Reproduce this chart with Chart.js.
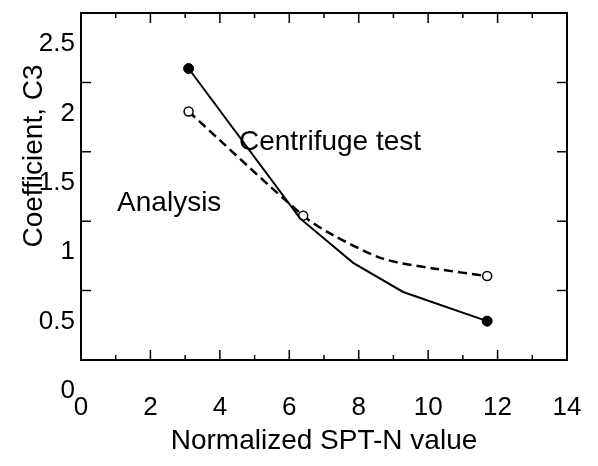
<!DOCTYPE html>
<html>
<head>
<meta charset="utf-8">
<script src="https://cdn.jsdelivr.net/npm/chart.js@4.4.1/dist/chart.umd.min.js"></script>
<style>
  html, body { margin: 0; padding: 0; background: #fff; }
</style>
</head>
<body>
<canvas id="myChart" width="598" height="466"></canvas>
<script>
// Centrifuge test: solid line, filled markers at both ends
let testN = [3.1, 6.31, 7.84, 9.28, 11.7];
let testC3 = [2.1, 1.02, 0.7, 0.49, 0.28];

// Analysis: dashed line, open markers
let analysisN = [3.1, 6.4, 7.26, 8.7, 10.14, 11.7];
let analysisC3 = [1.79, 1.04, 0.9, 0.73, 0.66, 0.605];

let xTicks = [0, 2, 4, 6, 8, 10, 12, 14];
let xMinorTicks = [1, 3, 5, 7, 9, 11, 13];
let yTicks = [0, 0.5, 1, 1.5, 2, 2.5];

const FONT = "'Liberation Sans', Arial, sans-serif";
Chart.defaults.font.family = FONT;
Chart.defaults.color = "#000";

// frame, inward tick marks and the text placed inside the plot
const framePlugin = {
  id: "frame",
  afterDraw(chart) {
    const { ctx, chartArea: a, scales } = chart;
    ctx.save();
    ctx.strokeStyle = "#000";
    ctx.lineWidth = 2;
    ctx.strokeRect(a.left, a.top, a.right - a.left, a.bottom - a.top);

    ctx.lineWidth = 1.5;
    ctx.beginPath();
    xTicks.forEach((v) => {
      let px = scales.x.getPixelForValue(v);
      ctx.moveTo(px, a.bottom); ctx.lineTo(px, a.bottom - 10);
      ctx.moveTo(px, a.top); ctx.lineTo(px, a.top + 10);
    });
    xMinorTicks.forEach((v) => {
      let px = scales.x.getPixelForValue(v);
      ctx.moveTo(px, a.bottom); ctx.lineTo(px, a.bottom - 5);
      ctx.moveTo(px, a.top); ctx.lineTo(px, a.top + 5);
    });
    yTicks.slice(1, -1).forEach((v) => {
      let py = scales.y.getPixelForValue(v);
      ctx.moveTo(a.left, py); ctx.lineTo(a.left + 10, py);
      ctx.moveTo(a.right, py); ctx.lineTo(a.right - 10, py);
    });
    ctx.stroke();

    ctx.fillStyle = "#000";
    ctx.font = "28px " + FONT;
    ctx.textBaseline = "alphabetic";
    ctx.textAlign = "left";
    ctx.fillText("Centrifuge test", scales.x.getPixelForValue(4.55), scales.y.getPixelForValue(1.51));
    ctx.fillText("Analysis", scales.x.getPixelForValue(1.04), scales.y.getPixelForValue(1.07));

    // y axis title
    ctx.translate(42, 156);
    ctx.rotate(-Math.PI / 2);
    ctx.textAlign = "center";
    ctx.fillText("Coefficient, C3", 0, 0);
    ctx.restore();
  },
};

let myChart = document.getElementById("myChart").getContext("2d");

let c3Chart = new Chart(myChart, {
  type: "line",
  data: {
    datasets: [
      {
        label: "Centrifuge test",
        data: testN.map((n, i) => ({ x: n, y: testC3[i] })),
        borderColor: "#000",
        borderWidth: 2,
        tension: 0,
        pointRadius: (c) => (c.dataIndex === 0 || c.dataIndex === testN.length - 1 ? 5 : 0),
        pointBackgroundColor: "#000",
        pointBorderColor: "#000",
        pointBorderWidth: 1,
      },
      {
        label: "Analysis",
        data: analysisN.map((n, i) => ({ x: n, y: analysisC3[i] })),
        borderColor: "#000",
        borderWidth: 2.5,
        borderDash: [9, 5],
        tension: 0.3,
        pointRadius: (c) => (c.dataIndex <= 1 || c.dataIndex === analysisN.length - 1 ? 4.5 : 0),
        pointBackgroundColor: "#fff",
        pointBorderColor: "#000",
        pointBorderWidth: 1.5,
      },
    ],
  },
  options: {
    responsive: false,
    animation: false,
    layout: { padding: { top: 13, right: 31, left: 0, bottom: 0 } },
    plugins: {
      legend: { display: false },
      tooltip: { enabled: false },
    },
    scales: {
      x: {
        type: "linear",
        min: 0,
        max: 14,
        afterBuildTicks: (s) => { s.ticks = xTicks.map((v) => ({ value: v })); },
        afterFit: (s) => {
          s.height = 106;
          s.paddingLeft = 0;
          s.paddingRight = 0;
        },
        grid: { display: false, drawTicks: false },
        border: { display: false },
        ticks: { autoSkip: false, padding: 32, maxRotation: 0, font: { size: 26 } },
        title: {
          display: true,
          text: "Normalized SPT-N value",
          font: { size: 28 },
          padding: { top: 0, bottom: 8 },
        },
      },
      y: {
        type: "linear",
        min: 0,
        max: 2.5,
        afterBuildTicks: (s) => { s.ticks = yTicks.map((v) => ({ value: v })); },
        afterFit: (s) => {
          s.width = 81;
          s.paddingTop = 0;
          s.paddingBottom = 0;
        },
        grid: { display: false, drawTicks: false },
        border: { display: false },
        ticks: {
          autoSkip: false,
          padding: 6,
          labelOffset: 31,
          font: { size: 26 },
          callback: (v) => String(v),
        },
      },
    },
  },
  plugins: [framePlugin],
});
</script>
</body>
</html>
